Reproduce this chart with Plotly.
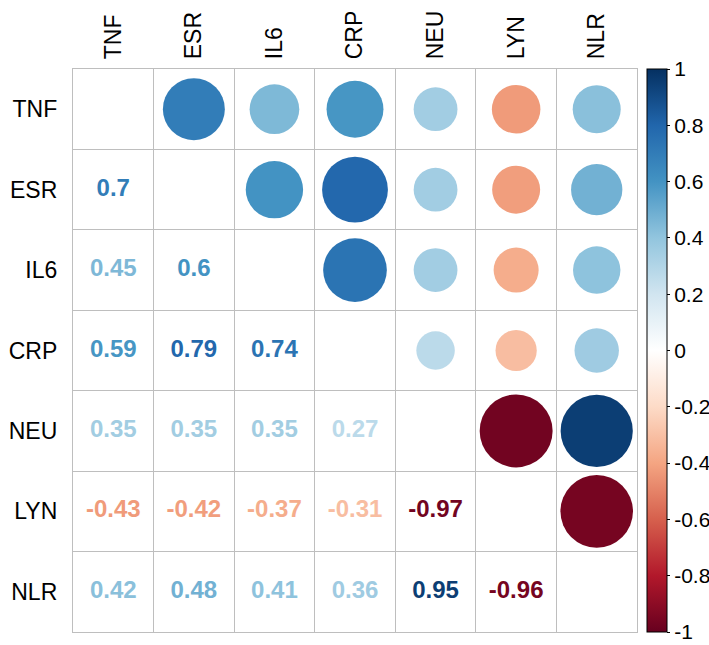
import numpy as np
import plotly.graph_objects as go
from plotly.colors import sample_colorscale

labels = ['TNF', 'ESR', 'IL6', 'CRP', 'NEU', 'LYN', 'NLR']

# correlation matrix (symmetric)
corr = np.array([
    [1.00, 0.70, 0.45, 0.59, 0.35, -0.43, 0.42],
    [0.70, 1.00, 0.60, 0.79, 0.35, -0.42, 0.48],
    [0.45, 0.60, 1.00, 0.74, 0.35, -0.37, 0.41],
    [0.59, 0.79, 0.74, 1.00, 0.27, -0.31, 0.36],
    [0.35, 0.35, 0.35, 0.27, 1.00, -0.97, 0.95],
    [-0.43, -0.42, -0.37, -0.31, -0.97, 1.00, -0.96],
    [0.42, 0.48, 0.41, 0.36, 0.95, -0.96, 1.00],
])

cbar_ticks = [-1, -0.8, -0.6, -0.4, -0.2, 0, 0.2, 0.4, 0.6, 0.8, 1]

# corrplot RdBu palette
pal = ['#67001F', '#B2182B', '#D6604D', '#F4A582', '#FDDBC7', '#FFFFFF',
       '#D1E5F0', '#92C5DE', '#4393C3', '#2166AC', '#053061']
cscale = [[i / (len(pal) - 1), c] for i, c in enumerate(pal)]

n = len(labels)
up_x, up_y, up_v = [], [], []
lo_x, lo_y, lo_v = [], [], []
for i in range(n):
    for j in range(n):
        if j > i:
            up_x.append(j); up_y.append(i); up_v.append(corr[i, j])
        elif j < i:
            lo_x.append(j); lo_y.append(i); lo_v.append(corr[i, j])

# circle area proportional to |r|
cell_px = 80.5
sizes = [0.92 * cell_px * np.sqrt(abs(v)) for v in up_v]

txt_colors = sample_colorscale(cscale, [(v + 1) / 2 for v in lo_v])
txt = [('%.2f' % v).rstrip('0').rstrip('.') for v in lo_v]

fig = go.Figure()

fig.add_trace(go.Scatter(
    x=up_x, y=up_y, mode='markers',
    marker=dict(size=sizes, color=up_v, colorscale=cscale, cmin=-1, cmax=1,
                opacity=1, line=dict(width=0),
                colorbar=dict(
                    x=1.017, xanchor='left', y=0.5, yanchor='middle',
                    len=1.0, lenmode='fraction', thickness=20,
                    xpad=0, ypad=0,
                    outlinecolor='black', outlinewidth=1,
                    tickvals=cbar_ticks,
                    ticktext=[('%g' % t) for t in cbar_ticks],
                    ticks='outside', ticklen=3, tickcolor='black',
                    tickfont=dict(family='Arial', size=21, color='black'),
                )),
    hoverinfo='skip', showlegend=False,
))

fig.add_trace(go.Scatter(
    x=lo_x, y=lo_y, mode='text', text=txt,
    textfont=dict(family='Arial', size=24, color=txt_colors, weight='bold'),
    hoverinfo='skip', showlegend=False,
))

grid = [k - 0.5 for k in range(n + 1)]

fig.update_xaxes(
    range=[-0.5, n - 0.5], side='top', tickvals=list(range(n)), ticktext=labels,
    tickangle=-90, tickfont=dict(family='Arial', size=23, color='black'),
    showgrid=False, zeroline=False, ticks='', ticklabelstandoff=4,
    automargin=False,
    minor=dict(tickvals=grid, showgrid=True, gridcolor='#BEBEBE', gridwidth=1.3),
    showline=True, mirror=True, linecolor='#BEBEBE', linewidth=1.3,
)
fig.update_yaxes(
    range=[n - 0.5, -0.5], tickvals=list(range(n)), ticktext=labels,
    tickfont=dict(family='Arial', size=23, color='black'),
    showgrid=False, zeroline=False, ticks='', ticklabelstandoff=10,
    automargin=False,
    minor=dict(tickvals=grid, showgrid=True, gridcolor='#BEBEBE', gridwidth=1.3),
    showline=True, mirror=True, linecolor='#BEBEBE', linewidth=1.3,
)

fig.update_layout(
    width=709, height=645,
    margin=dict(l=73, r=72, t=69, b=13, autoexpand=False),
    plot_bgcolor='white', paper_bgcolor='white',
)

# drop the default page margin so the figure fills the window
fig.write_html("out.html", config={'displayModeBar': False},
               post_script="document.body.style.margin='0';"
                           "document.body.style.overflow='hidden';")
